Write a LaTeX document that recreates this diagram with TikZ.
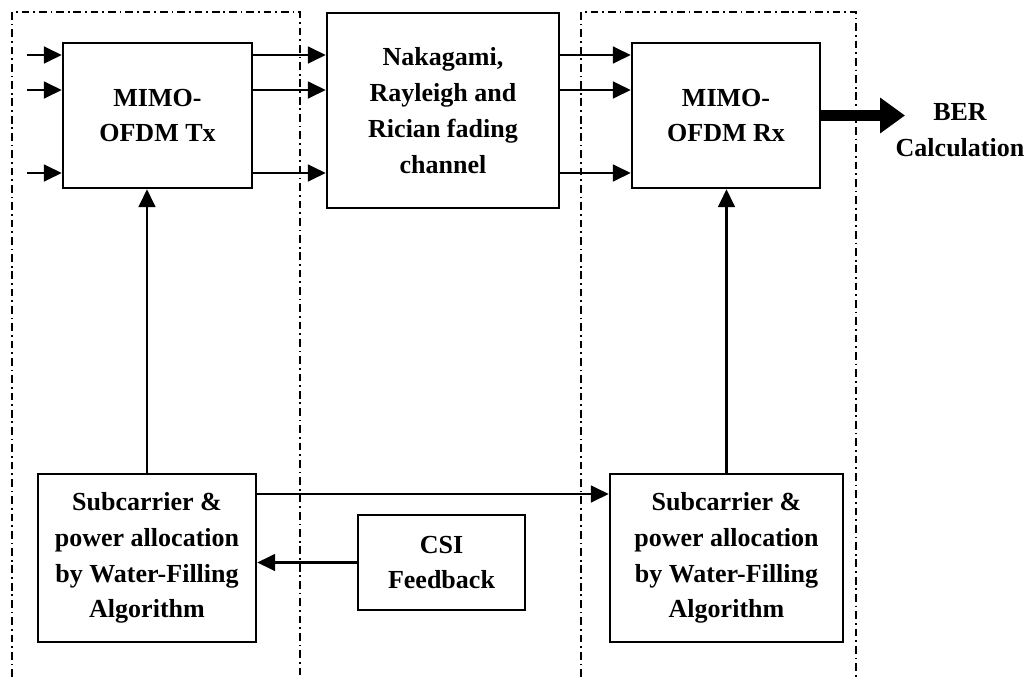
\documentclass[tikz,border=0pt]{standalone}
\usepackage{fontspec}
\setmainfont{Liberation Serif}
\usetikzlibrary{arrows.meta,calc,positioning}
\tikzset{%
	block/.style    = {draw, rectangle, line width=1.7pt, align=center, font=\fontsize{18.5}{25.5}\selectfont\bfseries},
	arrow/.style    = {line width=1.7pt, -{Triangle[length=0.45cm,width=0.42cm]}},
	bigarrow/.style = {line width=0.26cm, -{Triangle[length=0.62cm,width=0.85cm]}},
	frame/.style    = {line width=0.9pt, dash pattern=on 5.5pt off 2.8pt on 1.2pt off 2.8pt},
	label/.style    = {align=center, font=\fontsize{18.5}{25.5}\selectfont\bfseries},
}
\begin{document}
\begin{tikzpicture}[x=0.025cm,y=-0.025cm]
		\useasboundingbox (0,0) rectangle (1033,677);
		% Tx / Rx frames
		\draw[frame] (12,677) |- (300,12) -- (300,677);
		\draw[frame] (581,677) |- (856,12) -- (856,677);
		% blocks
		\node[block, minimum width=4.725cm, minimum height=3.625cm] (tx) at (157.5,115.5) {MIMO-\\OFDM Tx};
		\node[block, minimum width=5.8cm, minimum height=4.875cm] (ch) at (443,110.5) {Nakagami,\\Rayleigh and\\Rician fading\\channel};
		\node[block, minimum width=4.7cm, minimum height=3.625cm] (rx) at (726,115.5) {MIMO-\\OFDM Rx};
		\node[label] (ber) at (960,130) {BER\\Calculation};
		\node[block, minimum width=5.45cm, minimum height=4.2cm] (subl) at (147,558) {Subcarrier \&\\power allocation\\by Water-Filling\\Algorithm};
		\node[block, minimum width=4.175cm, minimum height=2.375cm] (csi) at (441.5,562.5) {CSI\\Feedback};
		\node[block, minimum width=5.825cm, minimum height=4.2cm] (subr) at (726.5,558) {Subcarrier \&\\power allocation\\by Water-Filling\\Algorithm};
		% signal lanes
		\coordinate (l1) at (27,55);
		\coordinate (l2) at (27,90);
		\coordinate (l3) at (27,173);
		\coordinate (fb) at (0,494);
		\coordinate (out) at (905,115.5);
		\foreach \l in {l1,l2,l3} {
			\draw[arrow] (\l) -- (tx.west|-\l);
			\draw[arrow] (tx.east|-\l) -- (ch.west|-\l);
			\draw[arrow] (ch.east|-\l) -- (rx.west|-\l);
		}
		\draw[bigarrow] (rx.east) -- (out);
		\draw[arrow] (subl.north) -- (subl.north|-tx.south);
		\draw[arrow] (subr.north) -- (subr.north|-rx.south);
		\draw[arrow] (subl.east|-fb) -- (subr.west|-fb);
		\draw[arrow] (csi.west) -- (subl.east|-csi.west);
\end{tikzpicture}
\end{document}
